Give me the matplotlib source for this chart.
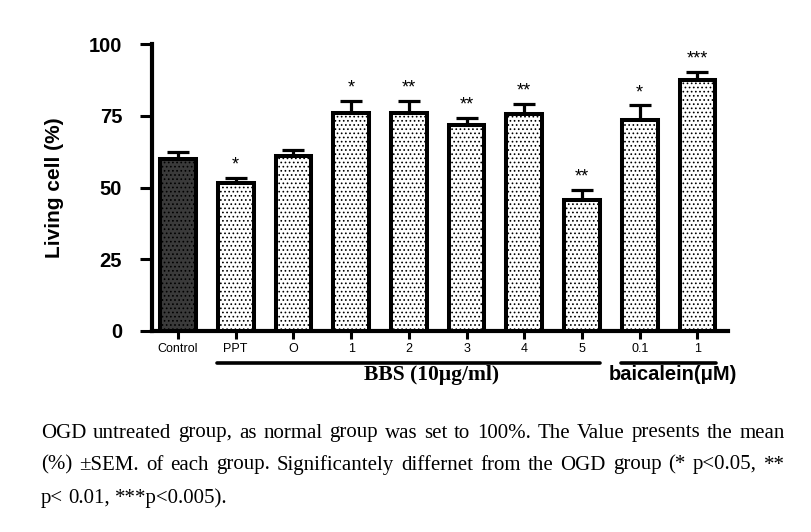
import matplotlib
matplotlib.use("Agg")
import matplotlib.pyplot as plt
import numpy as np
from matplotlib.lines import Line2D

# ---- data ----
categories = ["Control", "PPT", "O", "1", "2", "3", "4", "5", "0.1", "1"]
means = [60.0, 51.6, 61.1, 75.9, 75.9, 71.8, 75.6, 45.5, 73.6, 87.5]
sems = [2.2, 1.8, 2.1, 4.3, 4.2, 2.4, 3.6, 3.6, 5.0, 2.7]
stars = ["", "*", "", "*", "**", "**", "**", "**", "*", "***"]
yticks = [0, 25, 50, 75, 100]
group_labels = ["BBS (10\u03bcg/ml)", "baicalein(\u03bcM)"]
caption_lines = [
    "OGD untreated group, as normal group was set to 100%. The Value presents the mean",
    "(%) \u00b1SEM. of each group. Significantely differnet from the OGD group (* p<0.05, **",
    "p< 0.01, ***p<0.005).",
]

plt.rcParams["hatch.color"] = "black"
plt.rcParams["hatch.linewidth"] = 0.7
plt.rcParams["font.family"] = ["Liberation Sans", "DejaVu Sans"]

W, H = 812, 532
fig = plt.figure(figsize=(W / 100, H / 100), dpi=100)
ax = fig.add_axes([152 / W, 1 - 331 / H, (728 - 152) / W, (331 - 44) / H])

x = np.arange(len(categories))
colors = ["#3a3a3a"] + ["white"] * (len(categories) - 1)
ax.errorbar(x, means, yerr=[np.zeros(len(means)), sems], fmt="none",
            ecolor="black", elinewidth=2.3, capsize=8, capthick=2.3, zorder=2)
ax.bar(x, means, width=0.62, color=colors, edgecolor="black", linewidth=2.9,
       hatch="....", zorder=3)

for xi, m, s, st in zip(x, means, sems, stars):
    if st:
        ax.annotate(st, (xi, m + s), xytext=(0, 6), textcoords="offset points",
                    ha="center", va="baseline", fontsize=13)

ax.set_xlim(-0.45, 9.53)
ax.set_ylim(0, 100)
ax.set_xticks(x)
ax.set_xticklabels(categories, fontsize=9)
ax.set_yticks(yticks)
ax.set_yticklabels([str(v) for v in yticks], fontsize=14.5, fontweight="bold")
ax.tick_params(axis="y", length=8.5, width=2.2, pad=13)
ax.tick_params(axis="x", length=6, width=2.2, pad=3)
for sp in ["top", "right"]:
    ax.spines[sp].set_visible(False)
for sp in ["left", "bottom"]:
    ax.spines[sp].set_linewidth(3)
ax.set_ylabel("Living cell (%)", fontsize=15, fontweight="bold", labelpad=18)


def data_to_fig(xd):
    disp = ax.transData.transform((xd, 0))
    return fig.transFigure.inverted().transform(disp)[0]


# group lines and labels
groups = [
    (1, 7, group_labels[0], "Liberation Serif", 15.5, 4.4),
    (8, 9, group_labels[1], "Liberation Sans", 14.5, 8.58),
]
for g0, g1, lab, fam, fs, xc in groups:
    xa = data_to_fig(g0 - 0.32)
    xb = data_to_fig(g1 + 0.32)
    yl = 1 - 362.5 / H
    fig.add_artist(Line2D([xa, xb], [yl, yl], color="black", linewidth=2.6,
                          solid_capstyle="round"))
    fig.text(data_to_fig(xc), 1 - 375 / H, lab, ha="center", va="center",
             fontsize=fs, fontweight="bold", family=[fam, "DejaVu Sans"])

# caption, justified
fig.canvas.draw()
renderer = fig.canvas.get_renderer()
x0, x1 = 41, 785
line_y = [433, 465, 498]
cap_fs = 15
for i, line in enumerate(caption_lines):
    words = line.split(" ")
    texts = [fig.text(0, 1 - line_y[i] / H, w, ha="left", va="center",
                      fontsize=cap_fs, family=["Liberation Serif", "DejaVu Sans"])
             for w in words]
    widths = [t.get_window_extent(renderer).width for t in texts]
    if i < len(caption_lines) - 1:
        gap = (x1 - x0 - sum(widths)) / (len(words) - 1)
    else:
        sp = fig.text(0, 0, "a a", fontsize=cap_fs, family=["Liberation Serif"])
        sp2 = fig.text(0, 0, "aa", fontsize=cap_fs, family=["Liberation Serif"])
        gap = sp.get_window_extent(renderer).width - sp2.get_window_extent(renderer).width
        sp.remove()
        sp2.remove()
    cur = x0
    for t, w in zip(texts, widths):
        t.set_x(cur / W)
        cur += w + gap

fig.savefig("out.png", dpi=100)
